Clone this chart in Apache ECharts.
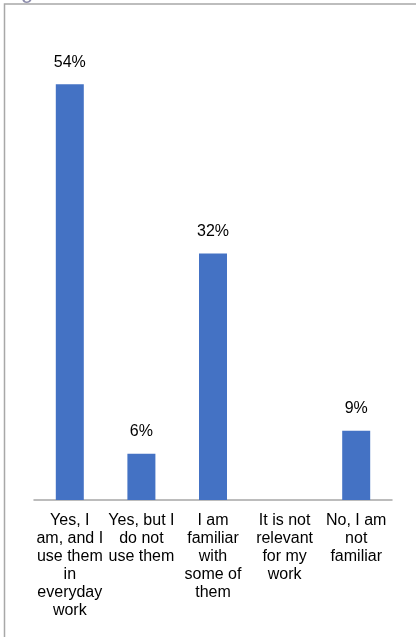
<!DOCTYPE html>
<html>
<head>
<meta charset="utf-8">
<style>
  html, body { margin: 0; padding: 0; background: #ffffff; }
  #chart { width: 416px; height: 637px; }
</style>
<script src="https://cdn.jsdelivr.net/npm/echarts@6/dist/echarts.min.js"></script>
</head>
<body>
<div id="chart"></div>
<script>
// Answer categories (line breaks as they wrap under each bar)
const categories = [
  'Yes, I\nam, and I\nuse them\nin\neveryday\nwork',
  'Yes, but I\ndo not\nuse them',
  'I am\nfamiliar\nwith\nsome of\nthem',
  'It is not\nrelevant\nfor my\nwork',
  'No, I am\nnot\nfamiliar'
];
// Share of respondents, in percent (no answers for the fourth option)
const shares = [54, 6, 32, null, 9];

const FONT = '"Liberation Sans", Arial, sans-serif';

const chart = echarts.init(document.getElementById('chart'), null, { renderer: 'canvas' });

chart.setOption({
  backgroundColor: '#ffffff',
  animation: false,
  textStyle: { fontFamily: FONT },
  grid: { left: 34, right: 24, top: 38, bottom: 137 },
  xAxis: {
    type: 'category',
    data: categories,
    axisLine: { show: true, lineStyle: { color: '#a6a6a6', width: 1.5 } },
    axisTick: { show: false },
    axisLabel: {
      interval: 0,
      color: '#000000',
      fontFamily: FONT,
      fontSize: 16,
      lineHeight: 18,
      margin: 12
    }
  },
  yAxis: {
    type: 'value',
    min: 0,
    max: 60,
    show: false
  },
  series: [{
    type: 'bar',
    data: shares,
    barWidth: 28,
    itemStyle: { color: '#4472c4' },
    label: {
      show: true,
      position: 'top',
      distance: 14,
      color: '#000000',
      fontFamily: FONT,
      fontSize: 16,
      formatter: (p) => p.value == null ? '' : p.value + '%'
    }
  }],
  graphic: [
    // frame around the chart area
    {
      type: 'polyline',
      silent: true,
      shape: { points: [[4.5, 637], [4.5, 4], [416, 4]] },
      style: { stroke: '#a8a8a8', lineWidth: 1.5, fill: null }
    },
    // descender of the heading above the frame
    {
      type: 'text',
      silent: true,
      left: 21,
      top: -19,
      style: { text: 'g', fill: '#8c8cab', font: '22px ' + FONT }
    }
  ]
});
</script>
</body>
</html>
